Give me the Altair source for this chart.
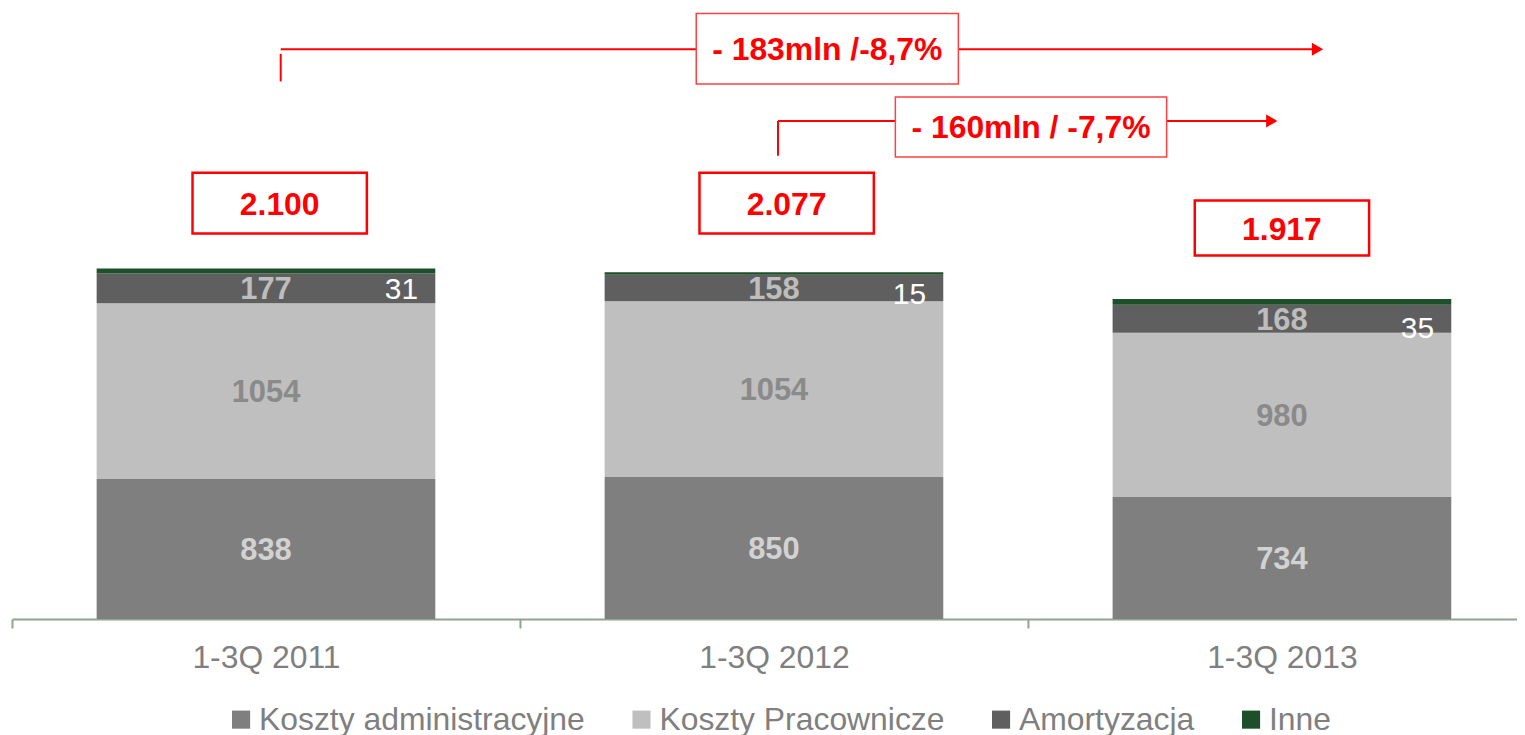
import altair as alt
import pandas as pd

# ---------------- data ----------------
categories = ["1-3Q 2011", "1-3Q 2012", "1-3Q 2013"]
series = ["Koszty administracyjne", "Koszty Pracownicze", "Amortyzacja", "Inne"]
admin = [838, 850, 734]
pracownicze = [1054, 1054, 980]
amortyzacja = [177, 158, 168]
inne = [31, 15, 35]
total_labels = ["2.100", "2.077", "1.917"]
change_labels = ["- 183mln /-8,7%", "- 160mln / -7,7%"]

# ---------------- styles ----------------
series_colors = ["#7f7f7f", "#bfbfbf", "#5f5f5f", "#1d4f2a"]
label_colors = ["#d2d2d2", "#8a8a8a", "#bdbdbd", "#ffffff"]
RED = "#ff0000"
FONT = "Liberation Sans, Arial, sans-serif"
Y_MAX = 3651
PLOT_W, PLOT_H = 1511, 612
STEP_PX = 510
BAR_HALF = 1 / 3          # half bar width in category steps
X_DOMAIN = [-0.5, -0.5 + PLOT_W / STEP_PX]

values = [admin, pracownicze, amortyzacja, inne]
rows = []
for ci, cat in enumerate(categories):
    base = 0
    for si, s in enumerate(series):
        v = values[si][ci]
        rows.append(dict(cat=cat, idx=ci, series=s, order=si, value=v,
                         x0=ci - BAR_HALF, x1=ci + BAR_HALF,
                         y0=base, y1=base + v, mid=base + v / 2))
        base += v
df = pd.DataFrame(rows)
totals = [sum(v[i] for v in values) for i in range(len(categories))]

label_expr = " : ".join(f"datum.value == {i} ? '{c}'" for i, c in enumerate(categories)) + " : ''"
tick_vals = [i * 0.5 - 0.5 for i in range(2 * len(categories) + 1)]

xs = alt.Scale(domain=X_DOMAIN, nice=False, zero=False)
ys = alt.Scale(domain=[0, Y_MAX], nice=False, zero=False)

x_axis = alt.Axis(values=tick_vals, labelExpr=label_expr, title=None, grid=False,
                  labelAngle=0, domainColor="#8fa58f", domainWidth=2,
                  tickColor="#8fa58f", tickWidth=2, tickSize=9,
                  tickOpacity={"condition": {"test": "datum.value % 1 == 0", "value": 0},
                               "value": 1},
                  labelFontSize=32, labelColor="#7f7f7f", labelFont=FONT,
                  labelPadding=15, labelOverlap=False, labelFlush=False)

bars = alt.Chart(df).mark_bar().encode(
    x=alt.X("x0:Q", scale=xs, axis=x_axis),
    x2="x1:Q",
    y=alt.Y("y0:Q", scale=ys, axis=None),
    y2="y1:Q",
    color=alt.Color("series:N", scale=alt.Scale(domain=series, range=series_colors),
                    legend=alt.Legend(title=None, orient="none", direction="horizontal",
                                      legendX=214, legendY=697, symbolType="square",
                                      symbolSize=330, symbolStrokeWidth=0,
                                      labelFontSize=32, labelColor="#7f7f7f",
                                      labelFont=FONT, labelOffset=2, columnPadding=40,
                                      labelLimit=0)),
)

seg_label_layers = []
for si in range(3):
    seg_label_layers.append(
        alt.Chart(df[df.order == si]).mark_text(
            font=FONT, fontSize=31, fontWeight="bold", baseline="middle",
            color=label_colors[si], dy=2
        ).encode(
            x=alt.X("idx:Q", scale=xs),
            y=alt.Y("mid:Q", scale=ys),
            text=alt.Text("value:Q"),
        )
    )

inne_nudge = [0, 28, 50]
amort_mid = df[df.order == 2]["mid"].tolist()
inne_df = pd.DataFrame({
    "x": [i + 0.8 * BAR_HALF for i in range(len(categories))],
    "value": inne,
    "y": [amort_mid[i] - inne_nudge[i] for i in range(len(categories))],
})
inne_labels = alt.Chart(inne_df).mark_text(
    font=FONT, fontSize=30, color=label_colors[3], baseline="middle", dy=2
).encode(
    x=alt.X("x:Q", scale=xs),
    y=alt.Y("y:Q", scale=ys),
    text=alt.Text("value:Q"),
)

# ---------------- annotations (x in category-index units) ----------------
box_dx = [0.027, 0.025, 0.0]
box_dy = [391, 414, 425]
box_half_h = [182, 182, 165]
BOX_HALF_W = 0.1716
tot_df = pd.DataFrame({
    "x": [i + box_dx[i] - BOX_HALF_W for i in range(3)],
    "x2": [i + box_dx[i] + BOX_HALF_W for i in range(3)],
    "xc": [i + box_dx[i] for i in range(3)],
    "yc": [totals[i] + box_dy[i] for i in range(3)],
    "y": [totals[i] + box_dy[i] - box_half_h[i] for i in range(3)],
    "y2": [totals[i] + box_dy[i] + box_half_h[i] for i in range(3)],
    "label": total_labels,
})

seg_df = pd.DataFrame({
    "x":  [0.029, 0.029, 1.008, 1.008],
    "x2": [0.029, 2.07, 1.008, 1.98],
    "y":  [3220, 3412, 2775, 2983],
    "y2": [3385, 3412, 2983, 2983],
})
head_df = pd.DataFrame({"x": [2.07, 1.98], "y": [3412, 2983]})
chg_df = pd.DataFrame({
    "x": [0.847, 1.239], "x2": [1.363, 1.773],
    "y": [3204, 2768], "y2": [3627, 3126],
    "xc": [1.105, 1.506], "yc": [3415, 2947],
    "label": change_labels,
})

segs = alt.Chart(seg_df).mark_rule(color=RED, strokeWidth=2).encode(
    x=alt.X("x:Q", scale=xs), x2="x2:Q",
    y=alt.Y("y:Q", scale=ys), y2="y2:Q",
)
heads = alt.Chart(head_df).mark_point(shape="triangle-right", filled=True, size=170,
                                      color=RED, opacity=1).encode(
    x=alt.X("x:Q", scale=xs),
    y=alt.Y("y:Q", scale=ys),
)
chg_boxes = alt.Chart(chg_df).mark_rect(fill="#ffffff", stroke="#ff4040", strokeWidth=1.5).encode(
    x=alt.X("x:Q", scale=xs), x2="x2:Q",
    y=alt.Y("y:Q", scale=ys), y2="y2:Q",
)
chg_text = alt.Chart(chg_df).mark_text(font=FONT, fontSize=32, fontWeight="bold",
                                       color=RED, baseline="middle", dy=1).encode(
    x=alt.X("xc:Q", scale=xs),
    y=alt.Y("yc:Q", scale=ys),
    text="label:N",
)
tot_boxes = alt.Chart(tot_df).mark_rect(fill="#ffffff", stroke=RED, strokeWidth=2.5).encode(
    x=alt.X("x:Q", scale=xs), x2="x2:Q",
    y=alt.Y("y:Q", scale=ys), y2="y2:Q",
)
tot_text = alt.Chart(tot_df).mark_text(font=FONT, fontSize=32, fontWeight="bold",
                                       color=RED, baseline="middle", dy=2).encode(
    x=alt.X("xc:Q", scale=xs),
    y=alt.Y("yc:Q", scale=ys),
    text="label:N",
)

chart = alt.layer(
    bars, *seg_label_layers, inne_labels,
    segs, heads, chg_boxes, chg_text, tot_boxes, tot_text
).properties(
    width=PLOT_W, height=PLOT_H,
    autosize=alt.AutoSizeParams(type="none"),
    padding={"left": 4, "top": 0, "right": 0, "bottom": 122},
    background="#ffffff",
).configure_view(stroke=None)

chart.save("out.html", embed_options={"renderer": "svg", "actions": False})
